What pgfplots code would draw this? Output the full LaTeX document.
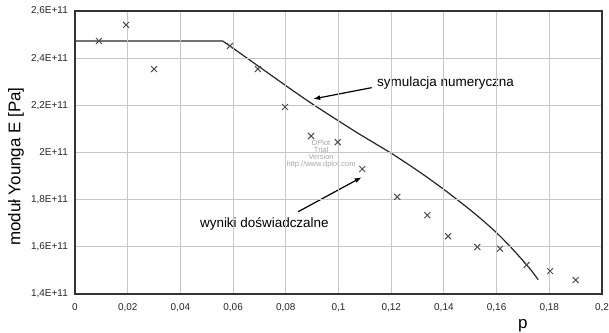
\documentclass[border=0pt]{standalone}
\usepackage{pgfplots}
\pgfplotsset{compat=1.18}
\usepackage{fontspec}
\setmainfont{Liberation Sans}
\usetikzlibrary{arrows.meta}

% measured Young's modulus (in 1E+11 Pa) against porosity p
\pgfplotstableread{
p      E
0.0091 2.473
0.0194 2.541
0.0300 2.354
0.0588 2.452
0.0694 2.354
0.0797 2.193
0.0896 2.070
0.0997 2.044
0.1090 1.930
0.1223 1.812
0.1337 1.734
0.1416 1.645
0.1527 1.599
0.1613 1.592
0.1714 1.523
0.1803 1.497
0.1900 1.459
}\measured

% numerical simulation: constant plateau, then the falling branch
\pgfplotstableread{
p      E
0.0000 2.473
0.0560 2.473
0.0588 2.4516
}\plateau

\pgfplotstableread{
p      E
0.0588 2.4516
0.0702 2.3612
0.0816 2.2709
0.0892 2.2124
0.0987 2.1433
0.1082 2.0762
0.1203 1.9948
0.1309 1.9164
0.1404 1.8400
0.1499 1.7573
0.1556 1.7039
0.1602 1.6573
0.1651 1.6021
0.1700 1.5415
0.1731 1.5008
0.1758 1.4605
}\branch

\begin{document}
\begin{tikzpicture}
\begin{axis}[
  at={(0,0)}, anchor=south west, scale only axis,
  width=527bp, height=283bp,
  xmin=0, xmax=0.2, ymin=1.4, ymax=2.6,
  xtick={0,0.02,0.04,0.06,0.08,0.1,0.12,0.14,0.16,0.18,0.2},
  xticklabels={0,{0,02},{0,04},{0,06},{0,08},{0,1},{0,12},{0,14},{0,16},{0,18},{0,2}},
  ytick={1.4,1.6,1.8,2.0,2.2,2.4,2.6},
  yticklabels={{1,4E+11},{1,6E+11},{1,8E+11},{2E+11},{2,2E+11},{2,4E+11},{2,6E+11}},
  grid=major,
  major grid style={draw=black!22, line width=0.9bp},
  axis line style={draw=black!80, line width=1.6bp},
  tick style={draw=none},
  ticklabel style={font=\fontsize{10}{12}\selectfont, text=black!85},
  xticklabel style={anchor=base, inner sep=0pt, yshift=-16bp},
  yticklabel style={anchor=east, inner sep=0pt, xshift=-7bp},
  every axis y label/.style={at={(axis description cs:-0.112,0.45)}, rotate=90, anchor=center},
  every axis x label/.style={at={(axis description cs:0.850,0)}, anchor=base, yshift=-34bp},
  label style={font=\fontsize{17}{20}\selectfont},
  ylabel={moduł Younga E [Pa]},
  xlabel={p},
  axis on top,
]
\addplot[draw=black!85, line width=1.2bp] table[x=p, y=E] {\plateau};
\addplot[draw=black!85, line width=1.2bp, smooth, tension=0.4] table[x=p, y=E] {\branch};
\addplot[only marks, mark=x, mark size=4.2bp, mark options={draw=black!70, line width=1bp}] table[x=p, y=E] {\measured};

% watermark
\node[text=black!35, font=\fontsize{7.5}{6.8}\selectfont, align=center, inner sep=0pt]
  at (axis cs:0.0934,1.994) {DPlot\\Trial\\Version\\http://www.dplot.com};

% annotations
\node[anchor=west, inner sep=0pt, font=\fontsize{13.5}{16}\selectfont] at (axis cs:0.1146,2.295) {symulacja numeryczna};
\draw[-{Latex[length=7bp,width=5bp]}, line width=1.2bp] (axis cs:0.1126,2.275) -- (axis cs:0.0904,2.227);
\node[anchor=west, inner sep=0pt, font=\fontsize{13.5}{16}\selectfont] at (axis cs:0.0474,1.697) {wyniki doświadczalne};
\draw[-{Latex[length=7bp,width=5bp]}, line width=1.2bp] (axis cs:0.0847,1.749) -- (axis cs:0.1088,1.895);
\end{axis}
\pgfresetboundingbox
\useasboundingbox (-75bp,-39bp) rectangle (534bp,294bp);
\end{tikzpicture}
\end{document}
